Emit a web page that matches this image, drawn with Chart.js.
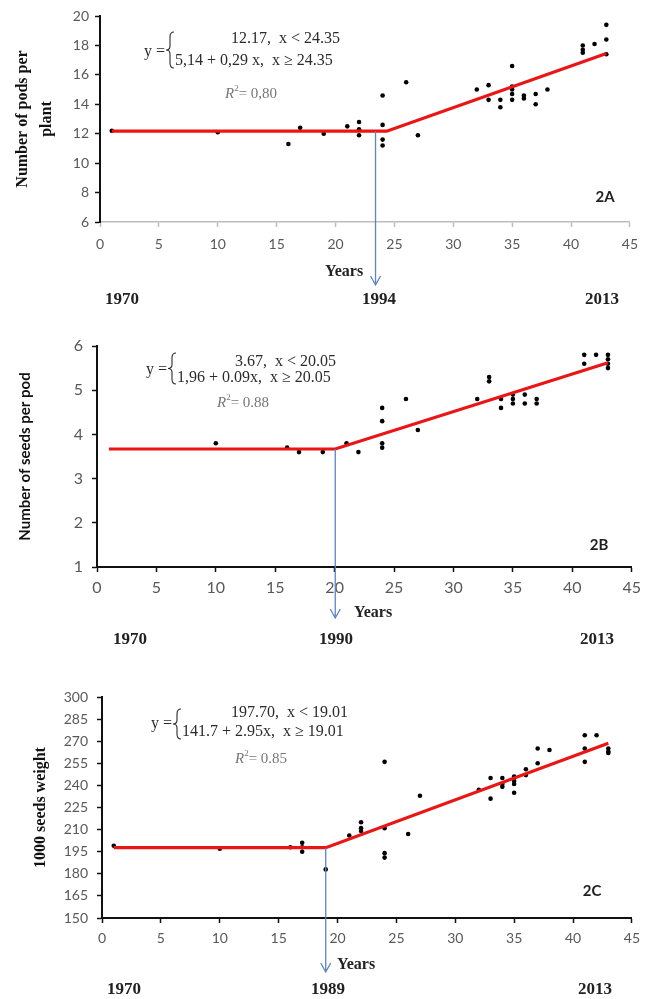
<!DOCTYPE html>
<html>
<head>
<meta charset="utf-8">
<script src="https://cdn.jsdelivr.net/npm/chart.js@4/dist/chart.umd.min.js"></script>
<style>
    body { margin: 0; background: #fff; }
    canvas { display: block; }
</style>
</head>
<body>
<canvas id="chart-2a" width="647" height="320"></canvas>
<canvas id="chart-2b" width="647" height="340"></canvas>
<canvas id="chart-2c" width="647" height="339"></canvas>
<script>
// 2A - number of pods per plant (x = years since 1970)
var podsX = [1, 10, 16, 17, 19, 21, 22, 22, 22, 24, 24, 24, 24, 26, 27, 32, 33, 33, 34, 34, 35, 35, 35, 35, 35, 36, 36, 37, 37, 38, 41, 41, 41, 42, 43, 43, 43];
var podsY = [12.2, 12.1, 11.3, 12.4, 12.0, 12.5, 12.8, 12.3, 11.9, 14.6, 12.6, 11.6, 11.2, 15.5, 11.9, 15.0, 15.3, 14.3, 14.3, 13.8, 16.6, 15.2, 15.0, 14.7, 14.3, 14.6, 14.4, 14.7, 14.0, 15.0, 18.0, 17.7, 17.5, 18.1, 19.4, 18.4, 17.4];
var podsLineX = [1, 24.35, 43];
var podsLineY = [12.17, 12.17, 17.45];
var podsBreak = 23.4;
var podsYears = ['1970', '1994', '2013'];

// 2B - number of seeds per pod
var seedsX = [10, 16, 17, 19, 21, 22, 24, 24, 24, 24, 26, 27, 32, 33, 33, 34, 34, 35, 35, 35, 36, 36, 37, 37, 41, 41, 42, 43, 43, 43, 43];
var seedsY = [3.8, 3.7, 3.6, 3.6, 3.8, 3.6, 4.6, 4.3, 3.8, 3.7, 4.8, 4.1, 4.8, 5.3, 5.2, 4.8, 4.6, 4.9, 4.8, 4.7, 4.9, 4.7, 4.8, 4.7, 5.8, 5.6, 5.8, 5.8, 5.7, 5.6, 5.5];
var seedsLineX = [1, 20.05, 43];
var seedsLineY = [3.67, 3.67, 5.62];
var seedsBreak = 20.05;
var seedsYears = ['1970', '1990', '2013'];

// 2C - 1000 seeds weight
var weightX = [1, 10, 16, 17, 17, 17, 19, 21, 22, 22, 22, 24, 24, 24, 24, 26, 27, 32, 33, 33, 34, 34, 34, 35, 35, 35, 35, 36, 36, 37, 37, 38, 41, 41, 41, 42, 43, 43, 43];
var weightY = [199, 197, 198, 201, 198, 195, 183, 206, 215, 211, 209, 256, 211, 194, 191, 207, 233, 237, 245, 231, 245, 241, 239, 246, 243, 241, 235, 251, 247, 265, 255, 264, 274, 265, 256, 274, 265, 263, 262];
var weightLineX = [1, 19.01, 43];
var weightLineY = [197.7, 197.7, 268.55];
var weightBreak = 19.0;
var weightYears = ['1970', '1989', '2013'];

(
    function () {
        var SERIF = '"Liberation Serif", "Times New Roman", serif',
            SANS = 'Lato, "Noto Sans", sans-serif';

        function toPoints(xs, ys) {
            return xs.map(function (x, i) {
                return {x: x, y: ys[i]};
            });
        }

        /**
         * Equação, R², seta do ponto de quebra e os anos
         * desenhados por cima do gráfico.
         */
        var notes = {
            id: 'notes',
            afterDraw: function (chart, args, o) {
                var ctx = chart.ctx,
                    xs = chart.scales.x,
                    ys = chart.scales.y;

                ctx.save();
                ctx.textBaseline = 'middle';
                ctx.fillStyle = '#2b2b2b';
                ctx.font = '16px ' + SERIF;
                ctx.textAlign = 'right';
                ctx.fillText('y =', o.eq.bx - 5, o.eq.y);
                ctx.textAlign = 'left';
                ctx.fillText(o.eq1, o.eq.l1x, o.eq.l1y);
                ctx.fillText(o.eq2, o.eq.l2x, o.eq.l2y);

                // chave
                var bx = o.eq.bx, bt = o.eq.bt, bb = o.eq.bb, bm = (bt + bb) / 2;
                ctx.strokeStyle = '#2b2b2b';
                ctx.lineWidth = 1.1;
                ctx.beginPath();
                ctx.moveTo(bx + 4, bt);
                ctx.quadraticCurveTo(bx, bt, bx, bt + 5);
                ctx.lineTo(bx, bm - 4);
                ctx.quadraticCurveTo(bx, bm, bx - 4, bm);
                ctx.quadraticCurveTo(bx, bm, bx, bm + 4);
                ctx.lineTo(bx, bb - 5);
                ctx.quadraticCurveTo(bx, bb, bx + 4, bb);
                ctx.stroke();

                // R²
                ctx.fillStyle = '#777';
                ctx.font = 'italic 15px ' + SERIF;
                ctx.fillText('R', o.r2.x, o.r2.y);
                var w = ctx.measureText('R').width;
                ctx.font = '9px ' + SERIF;
                ctx.fillText('2', o.r2.x + w, o.r2.y - 5);
                w += ctx.measureText('2').width;
                ctx.font = '15px ' + SERIF;
                ctx.fillText('= ' + o.r2.value, o.r2.x + w, o.r2.y);

                // seta
                var ax = xs.getPixelForValue(o.arrow.at),
                    ay = ys.getPixelForValue(o.arrow.from);
                ctx.strokeStyle = '#5b86c0';
                ctx.lineWidth = 1.3;
                ctx.beginPath();
                ctx.moveTo(ax, ay);
                ctx.lineTo(ax, o.arrow.to);
                ctx.moveTo(ax - 5, o.arrow.to - 9);
                ctx.lineTo(ax, o.arrow.to);
                ctx.lineTo(ax + 5, o.arrow.to - 9);
                ctx.stroke();

                // rótulo do painel
                ctx.fillStyle = '#222';
                ctx.textAlign = 'center';
                ctx.font = 'bold 15px ' + SANS;
                ctx.fillText(o.tag.text, o.tag.x, o.tag.y);

                ctx.font = 'bold 16px ' + SERIF;
                ctx.fillText('Years', o.yearsTitle.x, o.yearsTitle.y);

                ctx.font = 'bold 17px ' + SERIF;
                o.years.labels.forEach(function (label, i) {
                    ctx.fillText(label, o.years.x[i], o.years.y);
                });
                ctx.restore();
            }
        };

        function panel(id, cfg) {
            return new Chart(document.getElementById(id), {
                type: 'scatter',
                data: {
                    datasets: [
                        {
                            data: toPoints(cfg.lineX, cfg.lineY),
                            showLine: true,
                            borderColor: '#ea1515',
                            borderWidth: 3.2,
                            pointRadius: 0,
                            tension: 0
                        },
                        {
                            data: toPoints(cfg.x, cfg.y),
                            backgroundColor: '#000',
                            borderWidth: 0,
                            pointRadius: 2.3
                        }
                    ]
                },
                options: {
                    responsive: false,
                    animation: false,
                    layout: {padding: cfg.padding},
                    plugins: {
                        legend: {display: false},
                        tooltip: {enabled: false},
                        notes: cfg.notes
                    },
                    scales: {
                        x: {
                            type: 'linear',
                            min: 0,
                            max: 45,
                            ticks: {stepSize: 5, padding: cfg.xPad, color: '#595959', font: {family: SANS, size: cfg.tickSize}},
                            grid: {drawOnChartArea: false, tickLength: 5, tickColor: cfg.xColor, tickWidth: 1.5},
                            border: {color: cfg.xColor, width: cfg.xWidth},
                            afterFit: function (scale) {
                                scale.height = cfg.xHeight;
                            }
                        },
                        y: {
                            min: cfg.yMin,
                            max: cfg.yMax,
                            ticks: {stepSize: cfg.yStep, padding: cfg.yPad, color: '#595959', font: {family: SANS, size: cfg.tickSize}},
                            grid: {drawOnChartArea: false, tickLength: 5, tickColor: '#111', tickWidth: 1.5},
                            border: {color: '#111', width: 2},
                            title: {
                                display: true,
                                text: cfg.yTitle,
                                color: '#111',
                                font: cfg.yTitleFont,
                                padding: {top: cfg.yTitlePad, bottom: 0}
                            },
                            afterFit: function (scale) {
                                scale.width = cfg.yWidth;
                            }
                        }
                    }
                },
                plugins: [notes]
            });
        }

        panel('chart-2a', {
            x: podsX, y: podsY, lineX: podsLineX, lineY: podsLineY,
            yMin: 6, yMax: 20, yStep: 2,
            padding: {top: 16, right: 7, left: 0, bottom: 0},
            yWidth: 100, xHeight: 98, xPad: 9, yPad: 6, tickSize: 14,
            xColor: '#bdbdbd', xWidth: 1.5,
            yTitle: ['Number of pods per', 'plant'],
            yTitleFont: {family: SERIF, size: 16, weight: 'bold', lineHeight: 1.5},
            yTitlePad: 11,
            notes: {
                eq1: '12.17,  x < 24.35',
                eq2: '5,14 + 0,29 x,  x \u2265 24.35',
                eq: {y: 52, bx: 170, bt: 32, bb: 68, l1x: 231, l1y: 39, l2x: 175, l2y: 61},
                r2: {x: 225, y: 94, value: '0,80'},
                arrow: {at: podsBreak, from: podsLineY[0], to: 285},
                tag: {text: '2A', x: 605, y: 197},
                yearsTitle: {x: 344, y: 272},
                years: {labels: podsYears, x: [122, 379, 602], y: 300}
            }
        });

        panel('chart-2b', {
            x: seedsX, y: seedsY, lineX: seedsLineX, lineY: seedsLineY,
            yMin: 1, yMax: 6, yStep: 1,
            padding: {top: 26, right: 13, left: 0, bottom: 0},
            yWidth: 97, xHeight: 93, xPad: 6, yPad: 9, tickSize: 16,
            xColor: '#111', xWidth: 2,
            yTitle: 'Number of seeds per pod',
            yTitleFont: {family: SANS, size: 15, weight: 'bold', lineHeight: 1.2},
            yTitlePad: 16,
            notes: {
                eq1: '3.67,  x < 20.05',
                eq2: '1,96 + 0.09x,  x \u2265 20.05',
                eq: {y: 50, bx: 172, bt: 33, bb: 64, l1x: 235, l1y: 42, l2x: 177, l2y: 58},
                r2: {x: 217, y: 83, value: '0.88'},
                arrow: {at: seedsBreak, from: seedsLineY[0], to: 298},
                tag: {text: '2B', x: 599, y: 225},
                yearsTitle: {x: 373, y: 293},
                years: {labels: seedsYears, x: [130, 336, 597], y: 320}
            }
        });

        panel('chart-2c', {
            x: weightX, y: weightY, lineX: weightLineX, lineY: weightLineY,
            yMin: 150, yMax: 300, yStep: 15,
            padding: {top: 37, right: 12, left: 0, bottom: 0},
            yWidth: 102, xHeight: 81, xPad: 7, yPad: 9, tickSize: 14,
            xColor: '#111', xWidth: 2,
            yTitle: '1000 seeds weight',
            yTitleFont: {family: SERIF, size: 16, weight: 'bold', lineHeight: 1.2},
            yTitlePad: 31,
            notes: {
                eq1: '197.70,  x < 19.01',
                eq2: '141.7 + 2.95x,  x \u2265 19.01',
                eq: {y: 64, bx: 177, bt: 49, bb: 79, l1x: 231, l1y: 53, l2x: 182, l2y: 72},
                r2: {x: 235, y: 99, value: '0.85'},
                arrow: {at: weightBreak, from: weightLineY[0], to: 312},
                tag: {text: '2C', x: 592, y: 231},
                yearsTitle: {x: 356, y: 305},
                years: {labels: weightYears, x: [124, 328, 595], y: 330}
            }
        });
    }
)();
</script>
</body>
</html>
